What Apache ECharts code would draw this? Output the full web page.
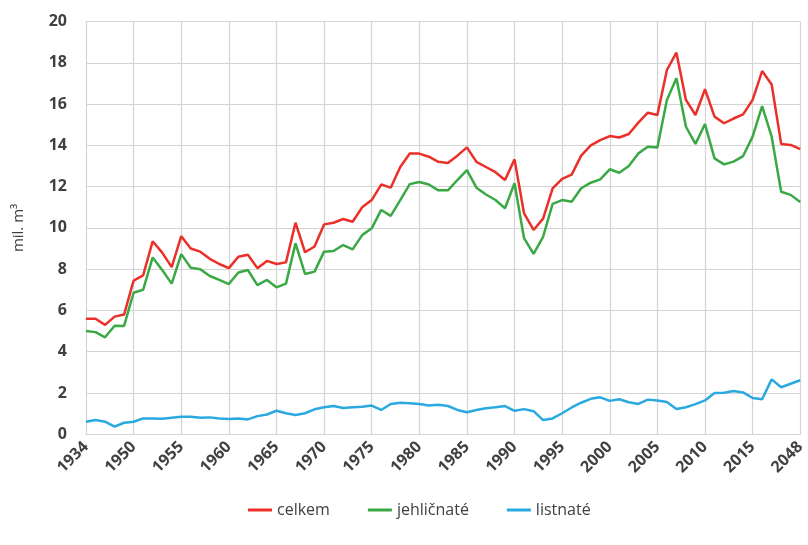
<!DOCTYPE html>
<html>
<head>
<meta charset="utf-8">
<script src="https://cdn.jsdelivr.net/npm/echarts@6/dist/echarts.min.js"></script>
<style>
  html, body { margin: 0; padding: 0; background: #fff; }
  #main { width: 808px; height: 545px; }
</style>
</head>
<body>
<div id="main"></div>
<script>
var chartDom = document.getElementById('main');
var myChart = echarts.init(chartDom);
var option;

// years on the category axis (1934, then 1946 onward)
var years = ['1934', '1946', '1947', '1948', '1949',
  '1950', '1951', '1952', '1953', '1954', '1955', '1956', '1957', '1958', '1959',
  '1960', '1961', '1962', '1963', '1964', '1965', '1966', '1967', '1968', '1969',
  '1970', '1971', '1972', '1973', '1974', '1975', '1976', '1977', '1978', '1979',
  '1980', '1981', '1982', '1983', '1984', '1985', '1986', '1987', '1988', '1989',
  '1990', '1991', '1992', '1993', '1994', '1995', '1996', '1997', '1998', '1999',
  '2000', '2001', '2002', '2003', '2004', '2005', '2006', '2007', '2008', '2009',
  '2010', '2011', '2012', '2013', '2014', '2015', '2016', '2017', '2018', '2019',
  '2048'];

// celkem (total)
var celkem = [5.6, 5.6, 5.3, 5.7, 5.8,
  7.45, 7.7, 9.35, 8.8, 8.1, 9.6, 9.0, 8.85, 8.5, 8.25,
  8.05, 8.6, 8.7, 8.05, 8.4, 8.25, 8.33, 10.25, 8.82, 9.1,
  10.17, 10.25, 10.43, 10.3, 11.0, 11.35, 12.1, 11.95, 12.95, 13.6,
  13.6, 13.45, 13.2, 13.15, 13.5, 13.9, 13.2, 12.95, 12.7, 12.32,
  13.32, 10.7, 9.9, 10.45, 11.92, 12.38, 12.58, 13.5, 14.0, 14.25,
  14.45, 14.38, 14.55, 15.1, 15.58, 15.47, 17.65, 18.49, 16.2, 15.47,
  16.72, 15.39, 15.07, 15.3, 15.5, 16.2, 17.6, 16.95, 14.07, 14.02,
  13.82];

// jehličnaté (coniferous)
var jehlicnate = [5.0, 4.95, 4.7, 5.26, 5.25,
  6.86, 7.0, 8.57, 7.96, 7.3, 8.73, 8.07, 8.0, 7.67, 7.48,
  7.28, 7.84, 7.96, 7.23, 7.48, 7.12, 7.3, 9.25, 7.77, 7.88,
  8.85, 8.88, 9.17, 8.96, 9.65, 9.98, 10.87, 10.58, 11.35, 12.12,
  12.22, 12.1, 11.82, 11.82, 12.32, 12.8, 11.95, 11.62, 11.35, 10.95,
  12.16, 9.5, 8.74, 9.57, 11.16, 11.35, 11.27, 11.92, 12.19, 12.35,
  12.84, 12.67, 13.0, 13.61, 13.93, 13.89, 16.2, 17.25, 14.9, 14.07,
  15.03, 13.37, 13.08, 13.21, 13.48, 14.42, 15.9, 14.42, 11.75, 11.6,
  11.25];

// listnaté (broadleaved)
var listnate = [0.61, 0.69, 0.61, 0.37, 0.56,
  0.61, 0.77, 0.77, 0.75, 0.8, 0.85, 0.85, 0.8, 0.82, 0.77,
  0.74, 0.77, 0.72, 0.88, 0.96, 1.14, 1.02, 0.94, 1.02, 1.21,
  1.31, 1.37, 1.27, 1.31, 1.33, 1.39, 1.18, 1.47, 1.53, 1.5,
  1.47, 1.4, 1.43, 1.37, 1.18, 1.07, 1.18, 1.26, 1.31, 1.37,
  1.14, 1.22, 1.12, 0.69, 0.77, 1.02, 1.3, 1.53, 1.72, 1.79,
  1.62, 1.7, 1.55, 1.47, 1.68, 1.64, 1.57, 1.23, 1.31, 1.46,
  1.64, 2.0, 2.01, 2.1, 2.03, 1.76, 1.7, 2.66, 2.28, 2.45,
  2.62];

var textColor = '#404040';
var gridColor = '#d4d4d4';
var font = '"Open Sans", "Noto Sans", sans-serif';

option = {
    animation: false,
    color: ['#ea3028', '#3aa845', '#2aa9e0'],
    grid: {
        left: 86,
        right: 0,
        top: 21.5,
        bottom: 110.7,
        containLabel: false
    },
    legend: {
        data: ['celkem', 'jehličnaté', 'listnaté'],
        top: 497,
        left: 243,
        icon: 'rect',
        itemWidth: 24,
        itemHeight: 3,
        itemGap: 38,
        textStyle: {
            color: textColor,
            fontSize: 16,
            fontFamily: font
        }
    },
    xAxis: {
        type: 'category',
        data: years,
        boundaryGap: false,
        axisLine: { show: true, lineStyle: { color: gridColor, width: 1.2 } },
        axisTick: { show: false, interval: 4 },
        axisLabel: {
            interval: 4,
            rotate: 45,
            margin: 10,
            color: textColor,
            fontSize: 16,
            fontWeight: 'bold',
            fontFamily: font
        },
        splitLine: {
            show: true,
            interval: 4,
            lineStyle: { color: gridColor, width: 1.2 }
        }
    },
    yAxis: {
        type: 'value',
        min: 0,
        max: 20,
        interval: 2,
        name: 'mil. m³',
        nameLocation: 'middle',
        nameGap: 60,
        nameTextStyle: {
            color: textColor,
            fontSize: 15,
            fontFamily: font
        },
        axisLine: { show: false },
        axisTick: { show: false },
        axisLabel: {
            margin: 19,
            color: textColor,
            fontSize: 16,
            fontWeight: 'bold',
            fontFamily: font
        },
        splitLine: {
            lineStyle: { color: gridColor, width: 1.2 }
        }
    },
    series: [
        {
            name: 'celkem',
            type: 'line',
            data: celkem,
            showSymbol: false,
            lineStyle: { width: 2.5 }
        },
        {
            name: 'jehličnaté',
            type: 'line',
            data: jehlicnate,
            showSymbol: false,
            lineStyle: { width: 2.5 }
        },
        {
            name: 'listnaté',
            type: 'line',
            data: listnate,
            showSymbol: false,
            lineStyle: { width: 2.5 }
        }
    ]
};
option && myChart.setOption(option);
</script>
</body>
</html>
